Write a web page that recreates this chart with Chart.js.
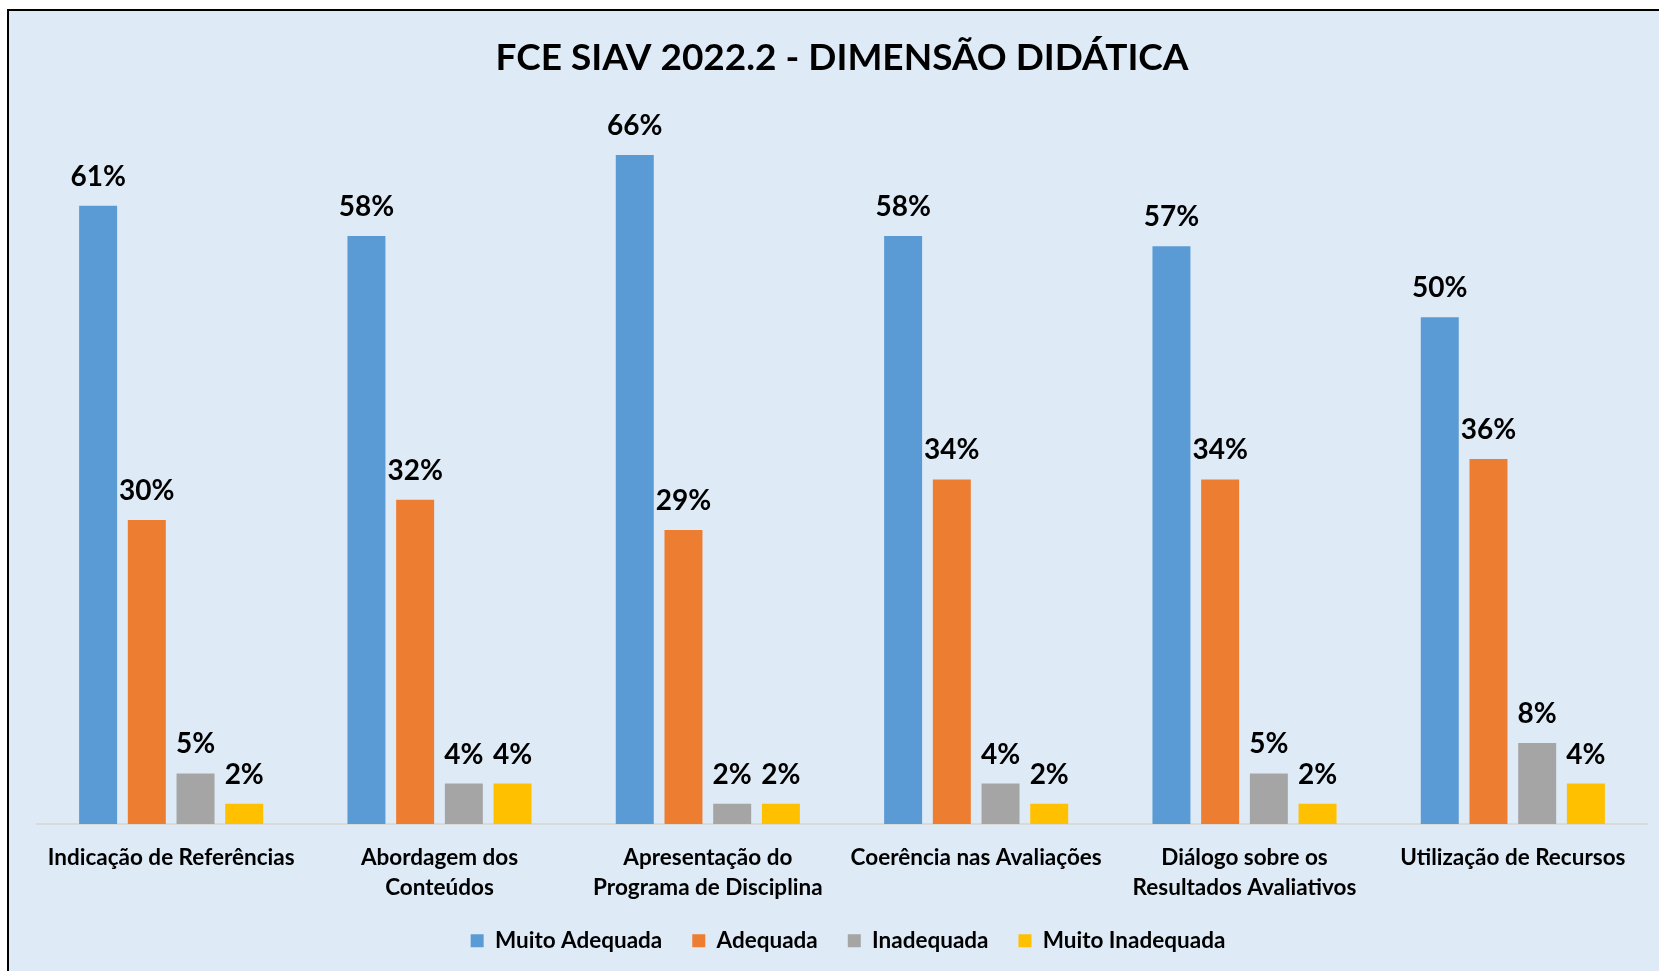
<!DOCTYPE html>
<html>
<head>
<meta charset="utf-8">
<script src="https://cdn.jsdelivr.net/npm/chart.js@4"></script>
<style>
  html, body { margin: 0; padding: 0; background: #fff; overflow: hidden; }
  .frame {
    position: absolute; left: 7px; top: 9px;
    width: 1680px; height: 990px;
    border-left: 2px solid #000; border-top: 2px solid #000;
    background: #deebf7;
  }
  .wrap { position: relative; width: 1670px; height: 975px; }
</style>
</head>
<body>
<div class="frame">
  <div class="wrap"><canvas id="didatica"></canvas></div>
</div>
<script>
const categories = [
    'Indicação de Referências',
    ['Abordagem dos', 'Conteúdos'],
    ['Apresentação do', 'Programa de Disciplina'],
    'Coerência nas Avaliações',
    ['Diálogo sobre os', 'Resultados Avaliativos'],
    'Utilização de Recursos'
];
const seriesNames = ['Muito Adequada', 'Adequada', 'Inadequada', 'Muito Inadequada'];
const muitoAdequada = [61, 58, 66, 58, 57, 50];
const adequada = [30, 32, 29, 34, 34, 36];
const inadequada = [5, 4, 2, 4, 5, 8];
const muitoInadequada = [2, 4, 2, 2, 2, 4];
const colors = ['#5b9bd5', '#ed7d31', '#a5a5a5', '#ffc000'];

// valores em cima das barras
const barLabels = {
    id: 'barLabels',
    afterDatasetsDraw(chart) {
        const ctx = chart.ctx;
        ctx.save();
        ctx.font = 'bold 28px Lato';
        ctx.fillStyle = '#000';
        ctx.textAlign = 'center';
        ctx.textBaseline = 'middle';
        chart.data.datasets.forEach((ds, i) => {
            chart.getDatasetMeta(i).data.forEach((bar, j) => {
                ctx.fillText(ds.data[j] + '%', bar.x, bar.y - 29);
            });
        });
        ctx.restore();
    }
};

// sobe a legenda para perto dos rótulos do eixo
const legendShift = {
    id: 'legendShift',
    afterLayout(chart) {
        const lg = chart.legend;
        lg.top -= 22;
        lg.bottom -= 22;
        lg.left += 6;
        lg.right += 6;
    }
};

const values = [muitoAdequada, adequada, inadequada, muitoInadequada];

new Chart(document.getElementById('didatica'), {
    type: 'bar',
    data: {
        labels: categories,
        datasets: values.map((v, i) => ({
            label: seriesNames[i],
            data: v,
            backgroundColor: colors[i],
            categoryPercentage: 0.726,
            barPercentage: 0.78
        }))
    },
    options: {
        responsive: true,
        maintainAspectRatio: false,
        animation: false,
        layout: { padding: { left: 28, right: 32, top: 0, bottom: 2 } },
        plugins: {
            title: {
                display: true,
                text: 'FCE SIAV 2022.2 - DIMENSÃO DIDÁTICA',
                color: '#000',
                font: { family: 'Lato', size: 37, weight: 'bold' },
                padding: { top: 25, bottom: 34 }
            },
            legend: {
                position: 'bottom',
                labels: {
                    color: '#000',
                    font: { family: 'Lato', size: 22.5, weight: 'bold' },
                    boxWidth: 13,
                    boxHeight: 13,
                    padding: 30
                }
            },
            tooltip: { enabled: false }
        },
        scales: {
            x: {
                grid: { display: false, drawTicks: false },
                border: { display: true, color: '#d9d9d9', width: 2 },
                ticks: {
                    color: '#000',
                    padding: 19,
                    maxRotation: 0,
                    autoSkip: false,
                    font: { family: 'Lato', size: 22.5, weight: 'bold', lineHeight: 1.32 }
                }
            },
            y: {
                display: false,
                min: 0,
                max: 70
            }
        }
    },
    plugins: [barLabels, legendShift]
});
</script>
</body>
</html>
